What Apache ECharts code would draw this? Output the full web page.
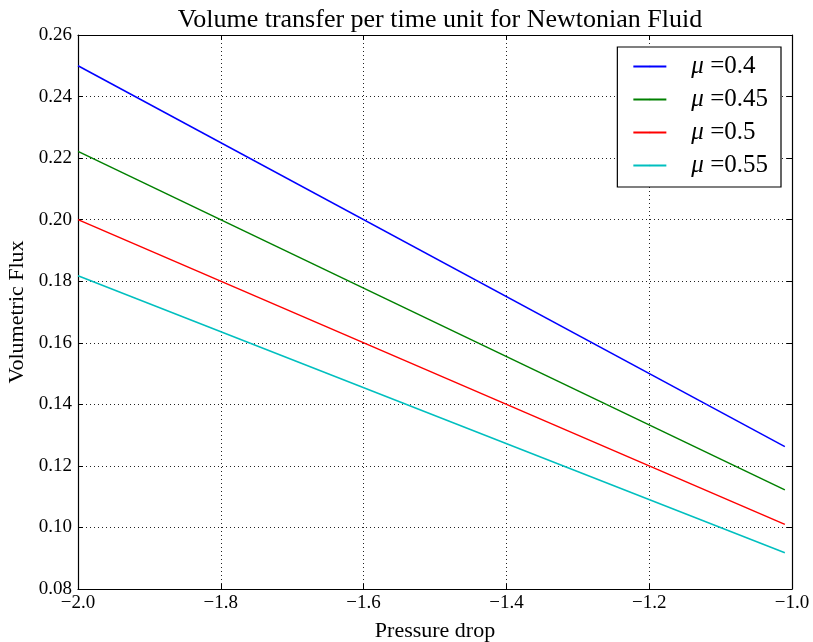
<!DOCTYPE html>
<html>
<head>
<meta charset="utf-8">
<script src="https://cdn.jsdelivr.net/npm/echarts@6/dist/echarts.min.js"></script>
<style>
html, body { margin: 0; padding: 0; background: #fff; }
#chart { width: 813px; height: 642px; }
</style>
</head>
<body>
<div id="chart"></div>
<script>
// 数据
var pressure = [-2.0, -1.01];
var mus = ['0.4', '0.45', '0.5', '0.55'];
var flux04 = [0.25, 0.12625];
var flux045 = [0.2222, 0.1122];
var flux05 = [0.20, 0.101];
var flux055 = [0.1818, 0.0918];
var colors = ['#0000ff', '#008000', '#ff0000', '#00bfbf'];

var fluxes = [flux04, flux045, flux05, flux055];
var font = '"Liberation Serif", "DejaVu Serif", serif';

function pairs(ys) {
    return pressure.map(function (x, i) { return [x, ys[i]]; });
}

var myChart = echarts.init(document.getElementById('chart'));

var axisCommon = {
    axisLine: { show: true, lineStyle: { color: '#000', width: 1.2 } },
    axisTick: { show: true, inside: true, length: 5, lineStyle: { color: '#000' } }
};

var option = {
    backgroundColor: '#fff',
    animation: false,
    title: {
        text: 'Volume transfer per time unit for Newtonian Fluid',
        left: 435,
        top: 2,
        textAlign: 'center',
        textStyle: { fontFamily: font, fontSize: 26, fontWeight: 'normal', color: '#000' }
    },
    legend: {
        right: 32,
        top: 47,
        orient: 'vertical',
        backgroundColor: '#fff',
        borderColor: '#000',
        borderWidth: 1.2,
        borderRadius: 0,
        padding: [7, 13, 9, 15],
        itemWidth: 33,
        itemHeight: 2,
        itemGap: 8,
        data: mus.map(function (m) { return 'μ =' + m; }),
        formatter: function (name) {
            return '{mu|μ} {t|' + name.replace('μ ', '') + '}';
        },
        textStyle: {
            fontFamily: font,
            fontSize: 25,
            color: '#000',
            rich: {
                mu: { fontFamily: font, fontSize: 25, fontStyle: 'italic', color: '#000', padding: [0, 0, 0, 20] },
                t: { fontFamily: font, fontSize: 25, color: '#000' }
            }
        }
    },
    grid: {
        left: 78,
        right: 21,
        top: 35,
        bottom: 53,
        containLabel: false,
        outerBoundsMode: 'none'
    },
    xAxis: [
        echarts.util.merge({
            type: 'value',
            min: -2,
            max: -1,
            interval: 0.2,
            name: 'Pressure drop',
            nameLocation: 'middle',
            nameGap: 31,
            nameTextStyle: { fontFamily: font, fontSize: 22, color: '#000' },
            axisLabel: {
                fontFamily: font, fontSize: 19, color: '#000', margin: 5,
                formatter: function (v) { return (v < 0 ? '\u2212' : '') + Math.abs(v).toFixed(1); }
            },
            splitLine: { show: true, lineStyle: { color: '#222', type: [1, 3], width: 1 } }
        }, axisCommon, true),
        echarts.util.merge({
            type: 'value',
            position: 'top',
            min: -2,
            max: -1,
            interval: 0.2,
            axisLabel: { show: false },
            splitLine: { show: false }
        }, axisCommon, true)
    ],
    yAxis: [
        echarts.util.merge({
            type: 'value',
            min: 0.08,
            max: 0.26,
            interval: 0.02,
            name: 'Volumetric Flux',
            nameLocation: 'middle',
            nameGap: 46,
            nameTextStyle: { fontFamily: font, fontSize: 22, color: '#000' },
            axisLabel: {
                fontFamily: font, fontSize: 19, color: '#000', margin: 6,
                formatter: function (v) { return v.toFixed(2); }
            },
            splitLine: { show: true, lineStyle: { color: '#222', type: [1, 3], width: 1 } }
        }, axisCommon, true),
        echarts.util.merge({
            type: 'value',
            position: 'right',
            min: 0.08,
            max: 0.26,
            interval: 0.02,
            axisLabel: { show: false },
            splitLine: { show: false }
        }, axisCommon, true)
    ],
    series: mus.map(function (m, i) {
        return {
            name: 'μ =' + m,
            type: 'line',
            data: pairs(fluxes[i]),
            symbol: 'none',
            color: colors[i],
            lineStyle: { color: colors[i], width: 1.5 }
        };
    })
};

myChart.setOption(option);
</script>
</body>
</html>
